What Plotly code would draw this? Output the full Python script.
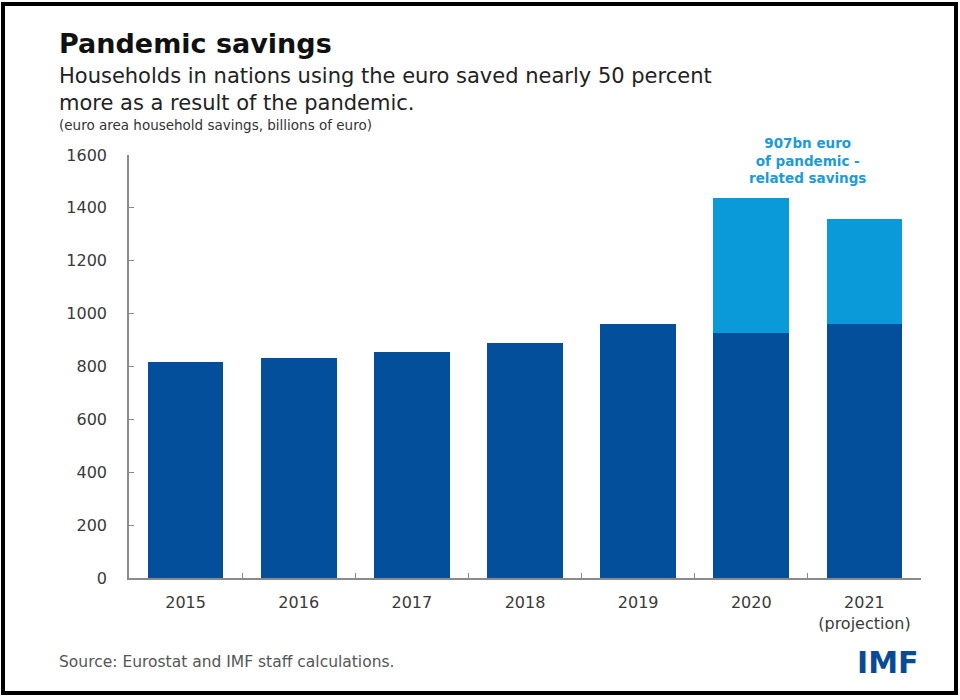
import plotly.graph_objects as go

years = ["2015", "2016", "2017", "2018", "2019", "2020", "2021"]
year_labels = ["2015", "2016", "2017", "2018", "2019", "2020", "2021<br>(projection)"]
base_savings = [817, 832, 855, 889, 961, 927, 961]
pandemic_savings = [0, 0, 0, 0, 0, 510, 397]
y_ticks = [0, 200, 400, 600, 800, 1000, 1200, 1400, 1600]

DARK = "#034f9c"
LIGHT = "#0b9ad9"
FONT = "DejaVu Sans"

W, H = 960, 700
L, R, T, B = 129, 921, 155, 578


def px(x):
    return (x - L) / (R - L)


def py(y):
    return (B - y) / (B - T)


fig = go.Figure()
fig.add_trace(go.Bar(x=years, y=base_savings, marker=dict(color=DARK, line=dict(width=0)),
                     width=0.67, showlegend=False, hoverinfo="x+y"))
fig.add_trace(go.Bar(x=years, y=pandemic_savings, marker=dict(color=LIGHT, line=dict(width=0)),
                     width=0.67, showlegend=False, hoverinfo="x+y"))

fig.update_layout(
    width=W, height=H,
    barmode="stack",
    plot_bgcolor="white", paper_bgcolor="white",
    margin=dict(l=L, r=W - R, t=T, b=H - B, autoexpand=False),
    font=dict(family=FONT, color="#333333"),
    xaxis=dict(
        tickmode="array", tickvals=years, ticktext=year_labels,
        showline=True, linecolor="#8a8a8a", linewidth=1.5,
        ticks="inside", tickson="boundaries", ticklen=5, tickcolor="#8a8a8a",
        tickfont=dict(family=FONT, size=16, color="#3a3a3a"),
        ticklabelstandoff=9,
        showgrid=False, zeroline=False,
    ),
    yaxis=dict(
        range=[0, 1600], tickmode="array", tickvals=y_ticks,
        showline=True, linecolor="#8a8a8a", linewidth=1.5,
        ticks="inside", ticklen=5, tickcolor="#8a8a8a",
        tickfont=dict(family=FONT, size=16, color="#3a3a3a"),
        ticklabelstandoff=17,
        showgrid=False, zeroline=False,
    ),
)

anns = [
    dict(text="<b>Pandemic savings</b>", x=px(57), y=py(43), xanchor="left", yanchor="middle",
         font=dict(family=FONT, size=27, color="#111111")),
    dict(text="Households in nations using the euro saved nearly 50 percent<br>more as a result of the pandemic.",
         x=px(57), y=py(89), xanchor="left", yanchor="middle", align="left",
         font=dict(family=FONT, size=21, color="#222222")),
    dict(text="(euro area household savings, billions of euro)", x=px(57), y=py(125),
         xanchor="left", yanchor="middle", font=dict(family=FONT, size=13.5, color="#333333")),
    dict(text="Source: Eurostat and IMF staff calculations.", x=px(57), y=py(662),
         xanchor="left", yanchor="middle", font=dict(family=FONT, size=15.5, color="#555555")),
    dict(text="<b>IMF</b>", x=px(921), y=py(662), xanchor="right", yanchor="middle",
         font=dict(family=FONT, size=30, color="#0a4a94")),
]
for a in anns:
    a.update(xref="paper", yref="paper", showarrow=False)
    fig.add_annotation(**a)

fig.add_annotation(text="<b>907bn euro<br>of pandemic -<br>related savings</b>",
                   xref="x", x=5.5, yref="paper", y=py(160), xanchor="center", yanchor="middle",
                   align="center", showarrow=False,
                   font=dict(family=FONT, size=13.5, color="#1c9bd8"))

fig.add_shape(type="rect", xref="paper", yref="paper",
              x0=px(3), x1=px(956), y0=py(4), y1=py(693),
              line=dict(color="black", width=4), fillcolor="rgba(0,0,0,0)", layer="above")

fig.write_html("out.html", config={"displayModeBar": False},
               post_script="document.body.style.margin='0';document.body.style.overflow='hidden';")
